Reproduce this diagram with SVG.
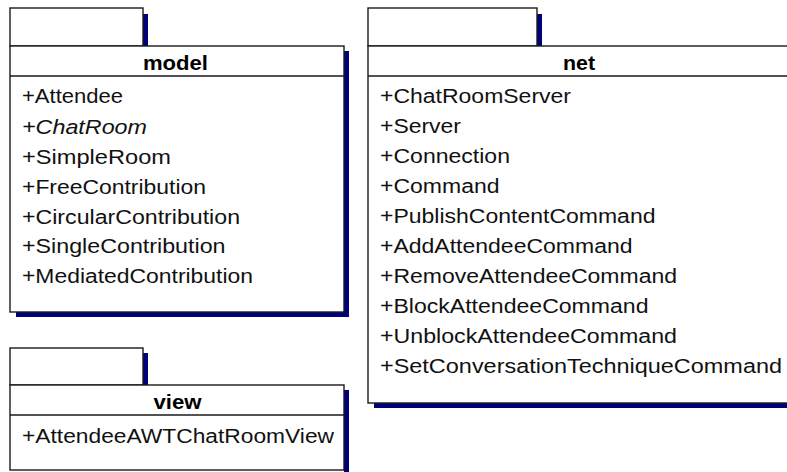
<svg xmlns="http://www.w3.org/2000/svg" width="787" height="472" viewBox="0 0 787 472">
  <style>
    .frame { fill: #ffffff; stroke: #1a1a1a; stroke-width: 1.4; }
    .rule { stroke: #1a1a1a; stroke-width: 1.4; fill: none; }
    .shadow { fill: #00007a; }
    .name { font-family: "Liberation Sans", Arial, sans-serif; font-size: 20px; font-weight: bold; fill: #000; text-anchor: middle; }
    .item { font-family: "Liberation Sans", Arial, sans-serif; font-size: 20px; fill: #111; }
    .abstract { font-style: italic; }
  </style>
  <rect width="787" height="472" fill="#ffffff"/>

  <!-- package: model -->
  <g id="pkg-model">
    <rect class="shadow" x="143" y="14" width="5" height="32"/>
    <rect class="shadow" x="344" y="51" width="5" height="266"/>
    <rect class="shadow" x="16" y="312" width="333" height="5"/>
    <rect class="frame" x="10" y="8" width="133" height="38"/>
    <rect class="frame" x="10" y="46" width="334" height="266"/>
    <line class="rule" x1="10" y1="76" x2="344" y2="76"/>
    <text class="name" x="175.5" y="70" textLength="65" lengthAdjust="spacingAndGlyphs">model</text>
    <text class="item" x="22" y="102.5" textLength="101" lengthAdjust="spacingAndGlyphs">+Attendee</text>
    <text class="item abstract" x="22" y="133.5" textLength="125" lengthAdjust="spacingAndGlyphs">+ChatRoom</text>
    <text class="item" x="22" y="163.5" textLength="149" lengthAdjust="spacingAndGlyphs">+SimpleRoom</text>
    <text class="item" x="22" y="193.5" textLength="184" lengthAdjust="spacingAndGlyphs">+FreeContribution</text>
    <text class="item" x="22" y="223.5" textLength="218" lengthAdjust="spacingAndGlyphs">+CircularContribution</text>
    <text class="item" x="22" y="253" textLength="203.5" lengthAdjust="spacingAndGlyphs">+SingleContribution</text>
    <text class="item" x="22" y="283" textLength="231" lengthAdjust="spacingAndGlyphs">+MediatedContribution</text>
  </g>

  <!-- package: view -->
  <g id="pkg-view">
    <rect class="shadow" x="143" y="353" width="5" height="32"/>
    <rect class="shadow" x="344" y="390" width="5" height="90"/>
    <rect class="frame" x="10" y="348" width="133" height="37"/>
    <rect class="frame" x="10" y="385" width="334" height="85"/>
    <line class="rule" x1="10" y1="415" x2="344" y2="415"/>
    <text class="name" x="177.5" y="408.5" textLength="48" lengthAdjust="spacingAndGlyphs">view</text>
    <text class="item" x="22" y="442.5" textLength="312" lengthAdjust="spacingAndGlyphs">+AttendeeAWTChatRoomView</text>
  </g>

  <!-- package: net -->
  <g id="pkg-net">
    <rect class="shadow" x="537" y="14" width="5" height="32"/>
    <rect class="shadow" x="374" y="403" width="420" height="5"/>
    <rect class="frame" x="368" y="8" width="169" height="38"/>
    <rect class="frame" x="368" y="46" width="422" height="357"/>
    <line class="rule" x1="368" y1="76" x2="790" y2="76"/>
    <text class="name" x="579" y="70" textLength="32" lengthAdjust="spacingAndGlyphs">net</text>
    <text class="item" x="380" y="102.5" textLength="191" lengthAdjust="spacingAndGlyphs">+ChatRoomServer</text>
    <text class="item" x="380" y="132.6" textLength="81" lengthAdjust="spacingAndGlyphs">+Server</text>
    <text class="item" x="380" y="162.7" textLength="130" lengthAdjust="spacingAndGlyphs">+Connection</text>
    <text class="item" x="380" y="192.8" textLength="119.5" lengthAdjust="spacingAndGlyphs">+Command</text>
    <text class="item" x="380" y="222.9" textLength="275.5" lengthAdjust="spacingAndGlyphs">+PublishContentCommand</text>
    <text class="item" x="380" y="253" textLength="252.5" lengthAdjust="spacingAndGlyphs">+AddAttendeeCommand</text>
    <text class="item" x="380" y="283.1" textLength="297" lengthAdjust="spacingAndGlyphs">+RemoveAttendeeCommand</text>
    <text class="item" x="380" y="313.2" textLength="268.5" lengthAdjust="spacingAndGlyphs">+BlockAttendeeCommand</text>
    <text class="item" x="380" y="343.3" textLength="297" lengthAdjust="spacingAndGlyphs">+UnblockAttendeeCommand</text>
    <text class="item" x="380" y="373.4" textLength="402" lengthAdjust="spacingAndGlyphs">+SetConversationTechniqueCommand</text>
  </g>
</svg>
